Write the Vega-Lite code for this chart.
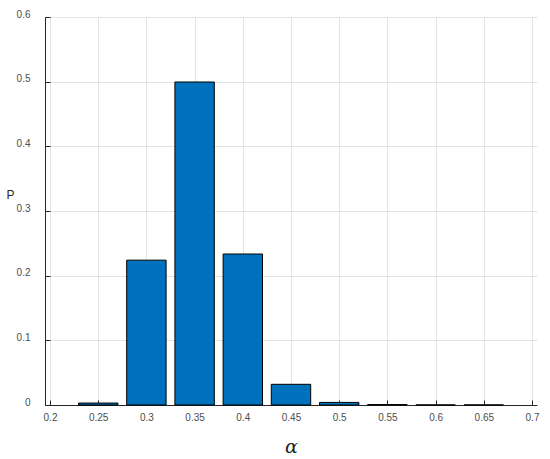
{
  "$schema": "https://vega.github.io/schema/vega-lite/v6.json",
  "width": 492,
  "height": 388,
  "autosize": "none",
  "padding": {"left": 45, "top": 17, "right": 13, "bottom": 54},
  "background": "white",
  "config": {
    "view": {"stroke": null},
    "axis": {
      "labelFont": "Liberation Sans",
      "labelFontSize": 10,
      "labelColor": "#4d4d4d",
      "titleFont": "Liberation Sans",
      "domainColor": "#262626",
      "tickColor": "#262626",
      "gridColor": "#e3e3e3",
      "gridWidth": 1
    }
  },
  "data": {
    "values": [
      {"alpha": 0.25, "P": 0.003},
      {"alpha": 0.30, "P": 0.224},
      {"alpha": 0.35, "P": 0.4995},
      {"alpha": 0.40, "P": 0.2335},
      {"alpha": 0.45, "P": 0.032},
      {"alpha": 0.50, "P": 0.004},
      {"alpha": 0.55, "P": 0.0007},
      {"alpha": 0.60, "P": 0.0001},
      {"alpha": 0.65, "P": 0.0001}
    ]
  },
  "mark": {"type": "bar", "width": 39.4, "color": "#0072BD", "stroke": "#000000", "strokeWidth": 1},
  "encoding": {
    "x": {
      "field": "alpha",
      "type": "quantitative",
      "scale": {"domain": [0.2, 0.7], "nice": false, "zero": false},
      "axis": {
        "values": [0.2, 0.25, 0.3, 0.35, 0.4, 0.45, 0.5, 0.55, 0.6, 0.65, 0.7],
        "format": "~g",
        "tickSize": -5,
        "labelPadding": 12,
        "labelFlush": false,
        "title": "α",
        "titleFont": "DejaVu Serif",
        "titleFontStyle": "italic",
        "titleFontWeight": "normal",
        "titleFontSize": 19,
        "titleColor": "#262626",
        "titleX": 246,
        "titleY": 41,
        "titleBaseline": "middle",
        "titleAlign": "center"
      }
    },
    "y": {
      "field": "P",
      "type": "quantitative",
      "scale": {"domain": [0, 0.6], "nice": false},
      "axis": {
        "values": [0, 0.1, 0.2, 0.3, 0.4, 0.5, 0.6],
        "format": "~g",
        "tickSize": -5,
        "labelPadding": 20,
        "labelOffset": -3,
        "labelFlush": false,
        "title": "P",
        "titleAngle": 0,
        "titleFontSize": 12,
        "titleFontWeight": "normal",
        "titleColor": "#262626",
        "titleX": -35,
        "titleY": 177,
        "titleAlign": "center",
        "titleBaseline": "middle"
      }
    }
  }
}
